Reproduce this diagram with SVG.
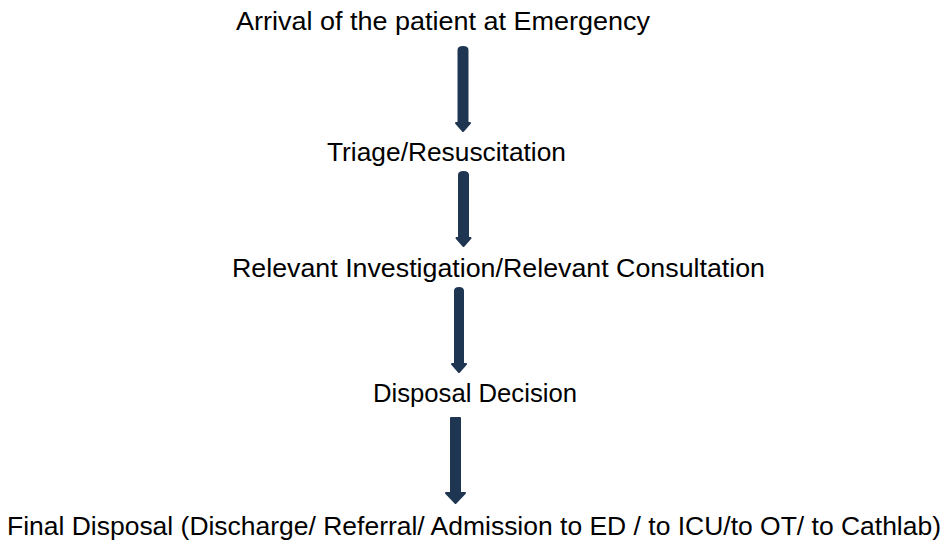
<svg xmlns="http://www.w3.org/2000/svg" width="951" height="544" viewBox="0 0 951 544">
<style>
.t{font-family:"Liberation Sans",Arial,sans-serif;font-size:25px;fill:#000}
.a{fill:#1F3653;stroke:#1F3653;stroke-width:2;stroke-linejoin:round}
</style>
<rect width="951" height="544" fill="#fff"/>
<g id="n1"><text class="t" x="236" y="30" textLength="414" lengthAdjust="spacingAndGlyphs">Arrival of the patient at Emergency</text></g>
<g id="n2"><text class="t" x="327" y="161" textLength="239" lengthAdjust="spacingAndGlyphs">Triage/Resuscitation</text></g>
<g id="n3"><text class="t" x="232" y="277" textLength="533" lengthAdjust="spacingAndGlyphs">Relevant Investigation/Relevant Consultation</text></g>
<g id="n4"><text class="t" x="373" y="402" textLength="204" lengthAdjust="spacingAndGlyphs">Disposal Decision</text></g>
<g id="n5"><text class="t" x="7" y="535" textLength="934" lengthAdjust="spacingAndGlyphs">Final Disposal (Discharge/ Referral/ Admission to ED / to ICU/to OT/ to Cathlab)</text></g>
<g id="connectors">
<path class="a" d="M458.5,50 Q458.5,47 463,47 Q467.5,47 467.5,50 L467.5,123 L470,123 L463,131 L456,123 L458.5,123 Z"/>
<path class="a" d="M459,175 Q459,172 463.5,172 Q468,172 468,175 L468,238 L470.5,238 L463.5,246 L456.5,238 L459,238 Z"/>
<path class="a" d="M455,291 Q455,288 459,288 Q463,288 463,291 L463,364 L466,364 L459,372 L452,364 L455,364 Z"/>
<path class="a" d="M451,418 L460,418 L460,493 L465,493 L455.5,503 L446,493 L451,493 Z"/>
</g>
</svg>
